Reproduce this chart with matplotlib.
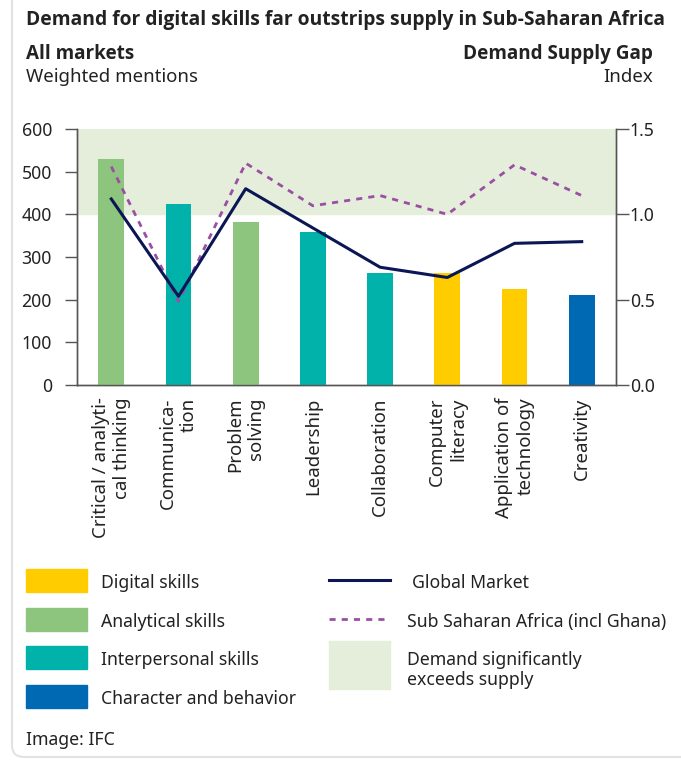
import matplotlib
matplotlib.use("Agg")
import matplotlib.pyplot as plt
from matplotlib.patches import Rectangle, FancyBboxPatch
from matplotlib.lines import Line2D

plt.rcParams['font.family'] = ['Noto Sans', 'DejaVu Sans']

categories = ["Critical / analyti-\ncal thinking", "Communica-\ntion", "Problem\nsolving",
              "Leadership", "Collaboration", "Computer\nliteracy",
              "Application of\ntechnology", "Creativity"]
mentions = [530, 424, 382, 358, 263, 263, 226, 210]
groups = ["Analytical skills", "Interpersonal skills", "Analytical skills",
          "Interpersonal skills", "Interpersonal skills", "Digital skills",
          "Digital skills", "Character and behavior"]
global_market = [1.09, 0.52, 1.15, 0.92, 0.69, 0.63, 0.83, 0.84]
ssa = [1.28, 0.49, 1.30, 1.05, 1.11, 1.00, 1.29, 1.11]
band_range = [1.0, 1.5]
left_ticks = [0, 100, 200, 300, 400, 500, 600]
right_ticks = [0.0, 0.5, 1.0, 1.5]

group_colors = {"Digital skills": "#FFCC00", "Analytical skills": "#8DC47E",
                "Interpersonal skills": "#00B2AA", "Character and behavior": "#0069B4"}
legend_groups = ["Digital skills", "Analytical skills", "Interpersonal skills", "Character and behavior"]
navy = "#0B1654"
purple = "#9A4FA3"
band_color = "#E5EDDB"
axis_color = "#555555"
text_color = "#222222"
BOLD = ['Open Sans', 'DejaVu Sans']
FS = 13.4
LFS = 12.7

W, H = 681, 760
fig = plt.figure(figsize=(W / 100, H / 100), dpi=100)
fig.patch.set_facecolor("white")

# overlay for card and texts (pixel coordinates)
ov = fig.add_axes([0, 0, 1, 1])
ov.set_xlim(0, W)
ov.set_ylim(H, 0)
ov.axis("off")
ov.set_zorder(-10)
ov.add_patch(FancyBboxPatch((12, -20), W + 30, H + 3 + 20 - 6,
                            boxstyle="round,pad=0,rounding_size=12",
                            fc="white", ec="#E2E2E2", lw=1.5, zorder=0))

L, R, T, B = 77, 616, 129, 385
ax = fig.add_axes([L / W, 1 - B / H, (R - L) / W, (B - T) / H])
ax2 = ax.twinx()
ax.set_zorder(1)
ax2.set_zorder(2)
ax.patch.set_visible(False)
ax2.patch.set_visible(False)

x = list(range(len(categories)))
ax.axhspan(band_range[0] * 400, band_range[1] * 400, color=band_color, zorder=0)
ax.bar(x, mentions, width=0.385, color=[group_colors[g] for g in groups], zorder=3)
ax.set_ylim(0, 600)
ax.set_xlim(-0.51, len(categories) - 1 + 0.51)
ax.set_yticks(left_ticks)
ax.set_xticks(x)
ax.set_xticklabels(categories, rotation=90, ha="center", va="top",
                   multialignment="right", fontsize=FS, color=text_color, linespacing=1.25)
ax.tick_params(axis="x", length=0, pad=9)
ax.tick_params(axis="y", length=9, width=1, color=axis_color, labelsize=12.7,
               labelcolor=text_color, pad=9)

ax2.set_ylim(0, 1.5)
ax2.set_yticks(right_ticks)
ax2.set_yticklabels([f"{t:.1f}" for t in right_ticks])
ax2.tick_params(axis="y", length=9, width=1, color=axis_color, labelsize=12.7,
                labelcolor=text_color, pad=1)
ax2.plot(x, ssa, color=purple, lw=2, ls=(0, (2.2, 2.2)), zorder=4)
ax2.plot(x, global_market, color=navy, lw=2.2, zorder=5)

for a in (ax, ax2):
    a.spines["top"].set_visible(False)
    for s in ("left", "right", "bottom"):
        a.spines[s].set_color(axis_color)
        a.spines[s].set_linewidth(1)

# titles
ov.text(26, 20, "Demand for digital skills far outstrips supply in Sub-Saharan Africa",
        fontsize=13.9, fontweight="bold", family=BOLD, color=text_color, va="center", ha="left")
ov.text(26, 54, "All markets", fontsize=13.6, fontweight="bold", family=BOLD,
        color=text_color, va="center")
ov.text(26, 77, "Weighted mentions", fontsize=FS, color=text_color, va="center")
ov.text(653, 54, "Demand Supply Gap", fontsize=13.6, fontweight="bold", family=BOLD,
        color=text_color, va="center", ha="right")
ov.text(653, 77, "Index", fontsize=FS, color=text_color, va="center", ha="right")

# legend
rows = [580, 619, 657, 696]
for g, yy in zip(legend_groups, rows):
    ov.add_patch(Rectangle((26, yy - 11.5), 61, 23, color=group_colors[g]))
    ov.text(101, yy + 3, g, fontsize=LFS, color=text_color, va="center")
ov.add_line(Line2D([329, 390], [580, 580], color=navy, lw=2.2))
ov.text(412, 583, "Global Market", fontsize=LFS, color=text_color, va="center")
ov.add_line(Line2D([329, 390], [619, 619], color=purple, lw=2, ls=(0, (2.2, 2.2))))
ov.text(407, 622, "Sub Saharan Africa (incl Ghana)", fontsize=LFS, color=text_color, va="center")
ov.add_patch(Rectangle((329, 641), 61, 48, color=band_color))
ov.text(407, 670, "Demand significantly\nexceeds supply", fontsize=LFS, color=text_color,
        va="center", linespacing=1.2)
ov.text(26, 740, "Image: IFC", fontsize=LFS, color=text_color, va="center")

fig.savefig("out.png", dpi=100)
